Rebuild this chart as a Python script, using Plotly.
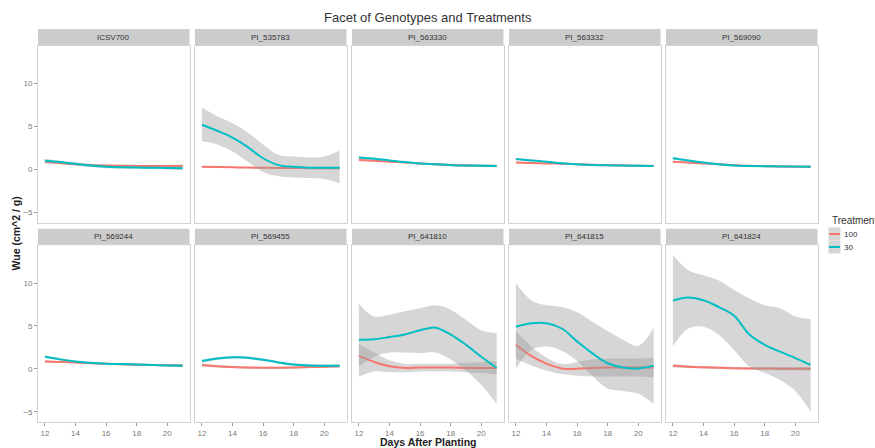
import plotly.graph_objects as go

# ---- data -------------------------------------------------------------
days = [12, 13, 14, 15, 16, 17, 18, 19, 20, 21]

genotypes = ["ICSV700", "PI_535783", "PI_563330", "PI_563332", "PI_569090",
             "PI_569244", "PI_569455", "PI_641810", "PI_641815", "PI_641824"]

treatments = ["100", "30"]

# smoothed Wue, treatment 100 (one row per genotype)
fit_100 = [
    [0.9, 0.75, 0.6, 0.5, 0.45, 0.42, 0.4, 0.4, 0.4, 0.4],
    [0.3, 0.27, 0.24, 0.21, 0.19, 0.17, 0.16, 0.15, 0.15, 0.15],
    [1.1, 1.0, 0.9, 0.8, 0.7, 0.6, 0.52, 0.47, 0.43, 0.4],
    [0.8, 0.75, 0.7, 0.65, 0.6, 0.55, 0.5, 0.45, 0.42, 0.4],
    [0.9, 0.8, 0.7, 0.6, 0.5, 0.42, 0.38, 0.35, 0.32, 0.3],
    [0.85, 0.8, 0.75, 0.65, 0.58, 0.52, 0.48, 0.45, 0.42, 0.4],
    [0.45, 0.3, 0.2, 0.15, 0.12, 0.12, 0.15, 0.2, 0.25, 0.3],
    [1.5, 0.8, 0.3, 0.1, 0.15, 0.15, 0.15, 0.1, 0.1, 0.1],
    [2.8, 1.5, 0.6, 0.05, 0.0, 0.1, 0.15, 0.15, 0.15, 0.15],
    [0.35, 0.25, 0.18, 0.12, 0.08, 0.05, 0.03, 0.02, 0.02, 0.02],
]
lo_100 = [
    [0.7, 0.6, 0.45, 0.35, 0.32, 0.29, 0.27, 0.27, 0.25, 0.2],
    [0.2, 0.18, 0.16, 0.13, 0.11, 0.09, 0.08, 0.06, 0.05, 0.03],
    [1.0, 0.92, 0.83, 0.73, 0.63, 0.53, 0.44, 0.38, 0.33, 0.28],
    [0.7, 0.67, 0.62, 0.57, 0.52, 0.47, 0.42, 0.36, 0.32, 0.28],
    [0.8, 0.71, 0.61, 0.51, 0.41, 0.33, 0.29, 0.25, 0.21, 0.18],
    [0.73, 0.7, 0.65, 0.55, 0.48, 0.42, 0.38, 0.34, 0.3, 0.26],
    [0.25, 0.16, 0.07, 0.02, -0.01, -0.01, 0.02, 0.07, 0.11, 0.14],
    [-0.9, -0.3, -0.4, -0.4, -0.3, -0.3, -0.3, -0.4, -0.5, -0.7],
    [1.2, 0.4, -0.2, -0.6, -0.8, -0.9, -0.9, -0.9, -0.9, -1.0],
    [0.15, 0.1, 0.04, -0.02, -0.06, -0.1, -0.14, -0.16, -0.18, -0.21],
]
hi_100 = [
    [1.1, 0.9, 0.75, 0.65, 0.58, 0.55, 0.53, 0.53, 0.55, 0.6],
    [0.4, 0.36, 0.32, 0.29, 0.27, 0.25, 0.24, 0.24, 0.25, 0.27],
    [1.2, 1.08, 0.97, 0.87, 0.77, 0.67, 0.6, 0.56, 0.53, 0.52],
    [0.9, 0.83, 0.78, 0.73, 0.68, 0.63, 0.58, 0.54, 0.52, 0.52],
    [1.0, 0.89, 0.79, 0.69, 0.59, 0.51, 0.47, 0.45, 0.43, 0.42],
    [0.97, 0.9, 0.85, 0.75, 0.68, 0.62, 0.58, 0.56, 0.54, 0.54],
    [0.65, 0.44, 0.33, 0.28, 0.25, 0.25, 0.28, 0.33, 0.39, 0.46],
    [2.9, 1.9, 1.0, 0.6, 0.6, 0.6, 0.6, 0.7, 0.8, 0.9],
    [4.4, 2.6, 1.3, 0.55, 0.8, 1.1, 1.2, 1.2, 1.2, 1.3],
    [0.55, 0.4, 0.32, 0.26, 0.22, 0.2, 0.2, 0.2, 0.22, 0.25],
]

# smoothed Wue, treatment 30
fit_30 = [
    [1.0, 0.85, 0.65, 0.45, 0.3, 0.25, 0.22, 0.2, 0.18, 0.15],
    [5.2, 4.5, 3.7, 2.6, 1.3, 0.5, 0.3, 0.2, 0.2, 0.2],
    [1.4, 1.25, 1.05, 0.85, 0.7, 0.6, 0.5, 0.45, 0.42, 0.4],
    [1.2, 1.05, 0.9, 0.72, 0.6, 0.52, 0.48, 0.45, 0.42, 0.4],
    [1.3, 1.05, 0.8, 0.6, 0.45, 0.4, 0.37, 0.35, 0.33, 0.3],
    [1.4, 1.1, 0.85, 0.7, 0.6, 0.55, 0.5, 0.45, 0.4, 0.35],
    [0.9, 1.2, 1.35, 1.3, 1.05, 0.75, 0.5, 0.4, 0.35, 0.35],
    [3.4, 3.45, 3.7, 4.0, 4.5, 4.8, 4.0, 2.8, 1.4, 0.1],
    [4.9, 5.3, 5.3, 4.7, 3.2, 1.8, 0.65, 0.15, 0.05, 0.35],
    [7.95, 8.3, 8.0, 7.2, 6.2, 4.0, 2.8, 2.0, 1.25, 0.45],
]
lo_30 = [
    [0.75, 0.7, 0.5, 0.28, 0.13, 0.1, 0.07, 0.04, 0.0, -0.07],
    [3.3, 2.9, 2.1, 0.9, -0.3, -0.8, -0.95, -1.0, -1.1, -1.6],
    [1.25, 1.13, 0.95, 0.75, 0.6, 0.5, 0.4, 0.34, 0.3, 0.25],
    [1.08, 0.95, 0.81, 0.63, 0.51, 0.43, 0.39, 0.35, 0.31, 0.27],
    [1.15, 0.93, 0.7, 0.5, 0.35, 0.31, 0.28, 0.25, 0.22, 0.17],
    [1.25, 0.98, 0.75, 0.6, 0.5, 0.45, 0.4, 0.34, 0.28, 0.2],
    [0.7, 1.05, 1.2, 1.15, 0.9, 0.6, 0.35, 0.25, 0.2, 0.18],
    [0.3, 1.4, 1.9, 1.9, 1.85, 1.9, 1.1, -0.2, -1.9, -4.1],
    [0.0, 2.2, 2.6, 2.1, 0.9, -0.8, -2.3, -2.6, -2.9, -4.1],
    [2.6, 4.7, 4.9, 3.95, 2.2, 0.27, -0.5, -1.3, -2.6, -5.0],
]
hi_30 = [
    [1.25, 1.0, 0.8, 0.62, 0.47, 0.4, 0.37, 0.36, 0.36, 0.37],
    [7.2, 6.2, 5.4, 4.3, 2.9, 1.7, 1.5, 1.4, 1.5, 2.2],
    [1.55, 1.37, 1.15, 0.95, 0.8, 0.7, 0.6, 0.56, 0.54, 0.55],
    [1.32, 1.15, 0.99, 0.81, 0.69, 0.61, 0.57, 0.55, 0.53, 0.53],
    [1.45, 1.17, 0.9, 0.7, 0.55, 0.49, 0.46, 0.45, 0.44, 0.43],
    [1.55, 1.22, 0.95, 0.8, 0.7, 0.65, 0.6, 0.56, 0.52, 0.5],
    [1.1, 1.35, 1.5, 1.45, 1.2, 0.9, 0.65, 0.55, 0.5, 0.52],
    [7.6, 6.1, 6.3, 6.7, 7.05, 7.4, 6.9, 5.7, 4.5, 4.15],
    [10.0, 8.0, 7.4, 7.2, 6.6, 5.5, 4.4, 3.4, 2.7, 4.8],
    [13.3, 11.5, 10.9, 10.3, 9.2, 8.2, 7.4, 7.05, 6.1, 5.8],
]

x_ticks = [12, 14, 16, 18, 20]
y_ticks = [-5, 0, 5, 10]

# ---- styling ----------------------------------------------------------
W, H = 875, 448
FONT = "Liberation Sans, Arial, sans-serif"
colors = {"100": "#F8766D", "30": "#00BFC4"}
band_fill = "rgba(153,153,153,0.4)"
border = "#d2d2d2"
Y_RANGE = [-6.2, 14.4]

col_px = [(38, 189.5), (195, 346.5), (352, 503.5), (509, 660.5), (666, 817.5)]
row_px = [(45.7, 222.7), (245.3, 422.0)]
strip_h = 16.6
N = len(genotypes)


def px(x):
    return x / W


def py(y):
    return 1 - y / H


series = {
    "100": (fit_100, lo_100, hi_100),
    "30": (fit_30, lo_30, hi_30),
}

fig = go.Figure()
layout = {}
shapes = []
annotations = []

for i, g in enumerate(genotypes):
    r, c = divmod(i, 5)
    n = i + 1
    xs = "x" if n == 1 else f"x{n}"
    ys = "y" if n == 1 else f"y{n}"

    # each treatment group gets its own y layer so that the later group's
    # band is painted over the earlier group's line
    for k, t in enumerate(treatments):
        fit, lo, hi = series[t]
        ylayer = ys if k == 0 else f"y{n + N * k}"
        fig.add_trace(go.Scatter(
            x=days, y=lo[i], xaxis=xs, yaxis=ylayer, mode="lines",
            line=dict(width=0, shape="spline"), showlegend=False,
            hoverinfo="skip"))
        fig.add_trace(go.Scatter(
            x=days, y=hi[i], xaxis=xs, yaxis=ylayer, mode="lines",
            line=dict(width=0, shape="spline"), fill="tonexty",
            fillcolor=band_fill, showlegend=False, hoverinfo="skip"))
        fig.add_trace(go.Scatter(
            x=days, y=fit[i], xaxis=xs, yaxis=ylayer, mode="lines",
            line=dict(color=colors[t], width=2, shape="spline"),
            name=t, showlegend=False))
        if k > 0:
            layout[f"yaxis{n + N * k}"] = dict(
                overlaying=ys, anchor=xs, range=Y_RANGE, visible=False,
                showgrid=False, zeroline=False)

    x0, x1 = col_px[c]
    y0, y1 = row_px[r]
    xkey = "xaxis" if n == 1 else f"xaxis{n}"
    ykey = "yaxis" if n == 1 else f"yaxis{n}"
    layout[xkey] = dict(
        domain=[px(x0), px(x1)], anchor=ys, range=[11.55, 21.45],
        showgrid=False, zeroline=False, showline=True, mirror=True,
        linecolor=border, linewidth=1,
        tickvals=x_ticks, ticks="outside" if r == 1 else "",
        ticklen=3, tickcolor="#9a9a9a", showticklabels=(r == 1),
        tickfont=dict(size=8, color="#7a7a7a", family=FONT))
    layout[ykey] = dict(
        domain=[py(y1), py(y0)], anchor=xs, range=Y_RANGE,
        showgrid=False, zeroline=False, showline=True, mirror=True,
        linecolor=border, linewidth=1,
        tickvals=y_ticks, ticks="outside" if c == 0 else "",
        ticklen=3, tickcolor="#9a9a9a", showticklabels=(c == 0),
        tickfont=dict(size=8, color="#7a7a7a", family=FONT))

    # facet strip
    shapes.append(dict(type="rect", xref="paper", yref="paper",
                       x0=px(x0), x1=px(x1), y0=py(y0), y1=py(y0 - strip_h),
                       fillcolor="#cccccc", line=dict(width=0), layer="below"))
    annotations.append(dict(text=g, xref="paper", yref="paper",
                            x=px((x0 + x1) / 2), y=py(y0 - strip_h / 2),
                            showarrow=False, xanchor="center", yanchor="middle",
                            font=dict(size=8, color="#333333", family=FONT)))

# titles
annotations.append(dict(text="Facet of Genotypes and Treatments",
                        xref="paper", yref="paper", x=px(427.5), y=py(17.7),
                        showarrow=False, xanchor="center", yanchor="middle",
                        font=dict(size=13, color="#333333", family=FONT)))
annotations.append(dict(text="<b>Days After Planting</b>",
                        xref="paper", yref="paper", x=px(427.7), y=py(441.5),
                        showarrow=False, xanchor="center", yanchor="middle",
                        font=dict(size=10.5, color="#222222", family=FONT)))
annotations.append(dict(text="<b>Wue (cm^2 / g)</b>",
                        xref="paper", yref="paper", x=px(15.5), y=py(234),
                        showarrow=False, xanchor="center", yanchor="middle",
                        textangle=-90,
                        font=dict(size=10.5, color="#222222", family=FONT)))

# legend (Treatment keys)
annotations.append(dict(text="Treatment", xref="paper", yref="paper",
                        x=px(829.5), y=py(220.7), showarrow=False,
                        xanchor="left", yanchor="middle",
                        font=dict(size=10, color="#333333", family=FONT)))
key_top = 227.5
key_h = 13
for k, t in enumerate(treatments):
    ky0 = key_top + k * key_h
    shapes.append(dict(type="rect", xref="paper", yref="paper",
                       x0=px(828.5), x1=px(840.5), y0=py(ky0 + key_h), y1=py(ky0),
                       fillcolor="#d6d6d6", line=dict(width=0)))
    shapes.append(dict(type="line", xref="paper", yref="paper",
                       x0=px(829), x1=px(840), y0=py(ky0 + key_h / 2),
                       y1=py(ky0 + key_h / 2),
                       line=dict(color=colors[t], width=2)))
    annotations.append(dict(text=t, xref="paper", yref="paper",
                            x=px(842), y=py(ky0 + key_h / 2), showarrow=False,
                            xanchor="left", yanchor="middle",
                            font=dict(size=8, color="#333333", family=FONT)))

fig.update_layout(
    width=W, height=H, margin=dict(l=0, r=0, t=0, b=0),
    paper_bgcolor="white", plot_bgcolor="white", showlegend=False,
    shapes=shapes, annotations=annotations, **layout)

fig.write_html("out.html")
